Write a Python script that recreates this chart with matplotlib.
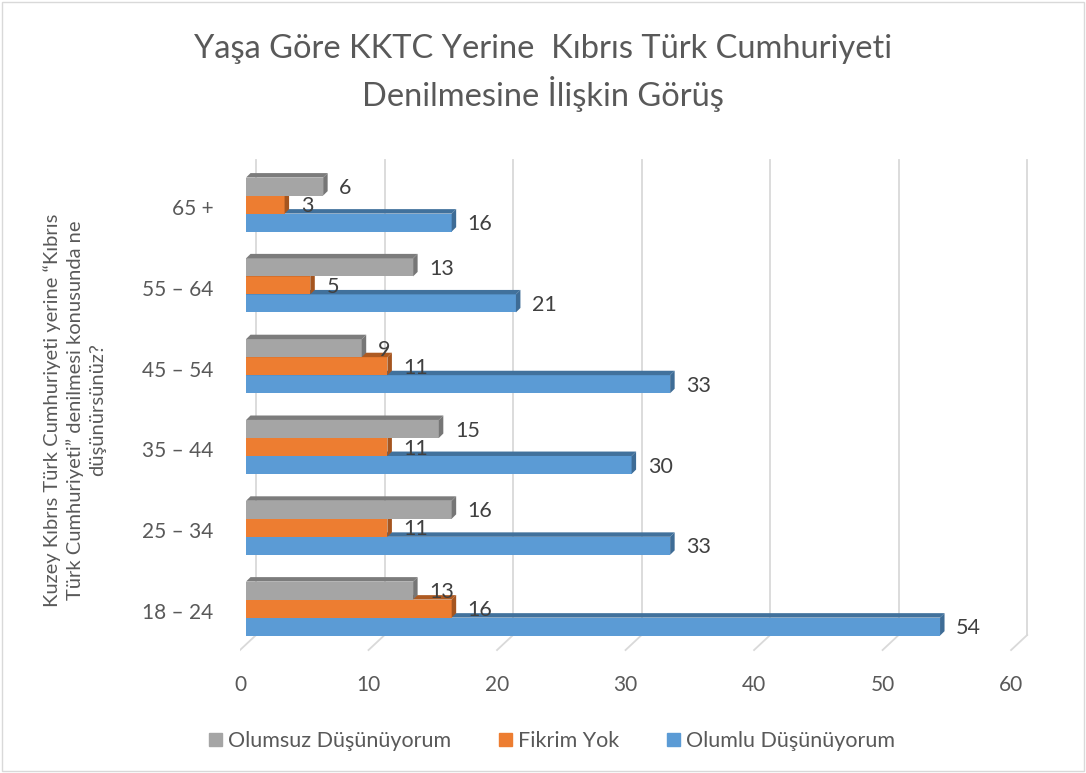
import matplotlib.pyplot as plt
from matplotlib.patches import Polygon, Patch, Rectangle

plt.rcParams['font.family'] = ['Lato', 'DejaVu Sans']

# data (bottom to top)
categories = ['18 – 24', '25 – 34', '35 – 44', '45 – 54', '55 – 64', '65 +']
olumlu = [54, 33, 30, 33, 21, 16]
fikrim_yok = [16, 11, 11, 11, 5, 3]
olumsuz = [13, 16, 15, 9, 13, 6]
series_names = ['Olumsuz Düşünüyorum', 'Fikrim Yok', 'Olumlu Düşünüyorum']
x_ticks = [0, 10, 20, 30, 40, 50, 60]

front = {'blue': '#5B9BD5', 'orange': '#ED7D31', 'gray': '#A5A5A5'}
top_c = {'blue': '#41719C', 'orange': '#AE5A21', 'gray': '#7C7C7C'}
side_c = {'blue': '#3E6C96', 'orange': '#A5551F', 'gray': '#767676'}

fig = plt.figure(figsize=(10.86, 7.73), dpi=100)
ax = fig.add_axes([240 / 1086, 1 - 659.5 / 773, 790 / 1086, 501 / 773])
ax.set_xlim(0, 61)
ax.set_ylim(-0.6, 5.6)
for s in ax.spines.values():
    s.set_visible(False)

# 3d look offsets (data units)
dx, dy = 0.35, 0.055
bh = 0.223
back_dx, front_dx = 0.78, -0.47
floor_front, floor_back = -0.483, -0.297

# walls / floor grid
for t in x_ticks:
    ax.plot([t + back_dx, t + back_dx], [floor_back, 5.58], color='#D9D9D9', lw=1.3, zorder=0)
    ax.plot([t + front_dx, t + back_dx], [floor_front, floor_back], color='#D9D9D9', lw=1.3, zorder=0)

ypos = list(range(len(categories)))
base = 0.03
series = [(olumlu, 'blue', -bh + base), (fikrim_yok, 'orange', base), (olumsuz, 'gray', bh + base)]
z = 2
for vals, c, off in series:
    ys = [y + off for y in ypos]
    ax.barh(ys, vals, height=bh, color=front[c], zorder=z)
    for v, y in zip(vals, ys):
        yt, yb = y + bh / 2, y - bh / 2
        ax.add_patch(Polygon([(0, yt), (v, yt), (v + dx, yt + dy), (dx, yt + dy)],
                             closed=True, facecolor=top_c[c], edgecolor='none', zorder=z))
        ax.add_patch(Polygon([(v, yb), (v, yt), (v + dx, yt + dy), (v + dx, yb + dy)],
                             closed=True, facecolor=side_c[c], edgecolor='none', zorder=z))
        ax.text(v + dx + 0.9, y - 0.02, str(v), ha='left', va='center',
                fontsize=15.5, color='#404040', zorder=10)
    z += 1

ax.set_xticks([t + front_dx for t in x_ticks], [str(t) for t in x_ticks])
ax.set_yticks(ypos, categories)
ax.tick_params(axis='x', length=0, pad=11, labelsize=15, labelcolor='#595959')
ax.tick_params(axis='y', length=0, pad=19, labelsize=15, labelcolor='#595959')

fig.text(75 / 1086, 1 - 410 / 773,
         'Kuzey Kıbrıs Türk Cumhuriyeti yerine “Kıbrıs\nTürk Cumhuriyeti” denilmesi konusunda ne\ndüşünürsünüz?',
         rotation=90, ha='center', va='center', multialignment='center',
         fontsize=14.5, color='#595959', linespacing=1.35)

fig.text(543 / 1086, 1 - 73 / 773,
         'Yaşa Göre KKTC Yerine  Kıbrıs Türk Cumhuriyeti\nDenilmesine İlişkin Görüş',
         ha='center', va='center', fontsize=23.5, color='#595959', linespacing=1.4)

handles = [Patch(color=front['gray']), Patch(color=front['orange']), Patch(color=front['blue'])]
fig.legend(handles, series_names, loc='center', bbox_to_anchor=(552 / 1086, 1 - 741 / 773),
           ncol=3, frameon=False, fontsize=15.5, handlelength=0.6, handleheight=0.6,
           handletextpad=0.3, columnspacing=2.2, labelcolor='#595959')

fig.patches.append(Rectangle((0.002, 0.002), 0.996, 0.996, transform=fig.transFigure,
                             fill=False, edgecolor='#D9D9D9', lw=1))

fig.savefig('out.png', dpi=100)
